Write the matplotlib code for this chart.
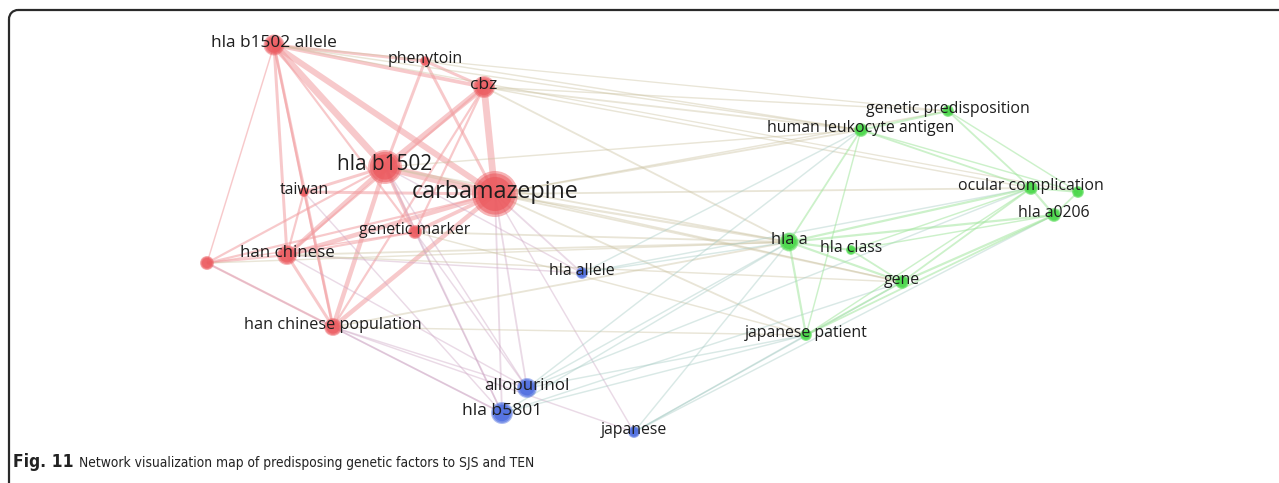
import numpy as np
import matplotlib
matplotlib.use("Agg")
import matplotlib.pyplot as plt
from matplotlib.collections import LineCollection
from matplotlib.patches import Arc
from matplotlib.colors import to_rgb

# keyword map: map coordinates (px), weight (occurrence size), cluster
labels = ["carbamazepine", "hla b1502", "hla b1502 allele", "cbz", "phenytoin",
          "taiwan", "genetic marker", "han chinese", "", "han chinese population",
          "hla allele", "allopurinol", "hla b5801", "japanese",
          "genetic predisposition", "human leukocyte antigen", "ocular complication", "",
          "hla a0206", "hla a", "hla class", "gene", "japanese patient"]
map_x = [495, 385, 274, 484, 425, 304, 415, 287, 207, 333,
         582, 527, 502, 634,
         948, 861, 1031, 1078, 1054, 789, 851, 902, 806]
map_y = [194, 167, 45, 87, 61, 192, 232, 255, 263, 327,
         273, 388, 413, 432,
         111, 130, 188, 192, 215, 242, 250, 282, 335]
weight = [23, 17, 10.5, 11, 5, 5, 7, 10, 7, 9,
          6, 10, 11, 6,
          6, 7, 7, 6, 7, 9.5, 5, 7, 6]
cluster = [0, 0, 0, 0, 0, 0, 0, 0, 0, 0,
           2, 2, 2, 2,
           1, 1, 1, 1, 1, 1, 1, 1, 1]

# links: (node a, node b, strength)
links = [
    (2, 1, 8), (2, 0, 7), (2, 3, 4), (2, 4, 3), (2, 7, 3), (2, 5, 2), (2, 9, 3),
    (2, 6, 2), (2, 8, 1), (1, 0, 9), (3, 0, 8), (3, 1, 7), (3, 4, 3), (4, 1, 3),
    (4, 0, 3), (1, 7, 5), (1, 9, 5), (1, 6, 4), (1, 5, 3), (1, 8, 2), (0, 7, 5),
    (0, 9, 5), (0, 6, 4), (0, 5, 3), (0, 8, 2), (7, 9, 3), (7, 8, 2), (7, 6, 2),
    (5, 7, 2), (5, 9, 2), (8, 9, 2), (3, 7, 2), (3, 9, 2), (3, 6, 2), (8, 6, 1),
    (0, 10, 1.5), (0, 11, 1.5), (0, 12, 1.5), (0, 13, 1), (1, 11, 1), (1, 12, 1.5),
    (6, 12, 1), (9, 12, 1.5), (9, 11, 1), (9, 13, 1), (7, 11, 1), (8, 12, 1),
    (5, 12, 1), (6, 11, 1), (1, 10, 1), (7, 10, 1),
    (0, 19, 2), (0, 15, 1.5), (0, 14, 1), (0, 16, 1.5), (0, 21, 1.5), (0, 22, 1.5),
    (3, 15, 1.5), (3, 14, 1), (3, 19, 1.5), (3, 16, 1), (2, 15, 1), (2, 17, 0.8),
    (1, 19, 1.5), (4, 15, 1), (6, 19, 1.5), (7, 19, 1.5), (9, 19, 1.5), (9, 22, 1),
    (1, 21, 1), (8, 19, 1), (7, 21, 1), (6, 22, 1), (2, 14, 0.8), (1, 15, 1),
    (10, 19, 1), (11, 19, 1), (11, 22, 1), (12, 22, 1), (13, 22, 1), (13, 19, 1),
    (10, 15, 1), (12, 21, 1), (13, 21, 1), (11, 16, 1), (12, 19, 1), (10, 16, 1),
    (13, 18, 1), (11, 15, 1),
    (19, 20, 2), (19, 21, 2), (19, 16, 2), (19, 18, 2), (19, 15, 1.5), (15, 14, 2),
    (15, 16, 1.5), (15, 17, 1), (14, 16, 1.5), (14, 17, 1), (16, 18, 2), (16, 17, 1.5),
    (18, 17, 1.5), (21, 18, 2), (21, 16, 1.5), (22, 21, 1.5), (22, 18, 1.5),
    (20, 21, 1.5), (22, 15, 1), (20, 18, 1), (19, 22, 2), (20, 16, 1), (22, 16, 1),
]

node_colors = ["#ec5a5f", "#46d846", "#4a6be0"]
link_colors = ["#f29ea1", "#a3e69f", "#aab0ea"]

fig = plt.figure(figsize=(12.79, 4.83), dpi=100)
ax = fig.add_axes([0, 0, 1, 1])
ax.set_xlim(0, 1279)
ax.set_ylim(483, 0)
ax.axis("off")

# links
segs, cols, lws = [], [], []
for a, b, s in links:
    segs.append([(map_x[a], map_y[a]), (map_x[b], map_y[b])])
    ca = np.array(to_rgb(link_colors[cluster[a]]))
    cb = np.array(to_rgb(link_colors[cluster[b]]))
    if cluster[a] == cluster[b]:
        c = ca
        alpha = 0.55
    else:
        c = (ca + cb) / 2
        alpha = 0.42
    cols.append((*c, alpha))
    lws.append(0.5 + 0.55 * s)
ax.add_collection(LineCollection(segs, colors=cols, linewidths=lws, zorder=1))

# nodes: soft rim, solid core
w = np.array(weight)
sizes = (2 * w * 0.72) ** 2
ncol = [node_colors[c] for c in cluster]
ax.scatter(map_x, map_y, s=sizes, c=ncol, alpha=0.45, linewidths=0, zorder=2)
ax.scatter(map_x, map_y, s=sizes * 0.8, c=ncol, alpha=0.55, linewidths=0, zorder=3)
ax.scatter(map_x, map_y, s=sizes * 0.55, c=ncol, alpha=0.7, linewidths=0, zorder=3)

# labels
for i, lab in enumerate(labels):
    if not lab:
        continue
    fs = max(11.4, 11.4 * (weight[i] / 8.5) ** 0.39)
    ax.text(map_x[i], map_y[i] - 2, lab, fontsize=fs, color="#1e1e1e",
            family=["Open Sans", "DejaVu Sans"], ha="center", va="center", zorder=4)

# panel border with rounded top-left corner
r = 9
ax.plot([9 + r, 1279], [10, 10], color="#2a2a2a", lw=1.6, solid_capstyle="butt")
ax.plot([9, 9], [10 + r, 483], color="#2a2a2a", lw=1.6, solid_capstyle="butt")
ax.add_patch(Arc((9 + r, 10 + r), 2 * r, 2 * r, theta1=180, theta2=270,
                 color="#2a2a2a", lw=1.6))

# caption
cap_font = ["Liberation Sans Narrow", "DejaVu Sans"]
t1 = ax.text(13, 462, "Fig. 11", fontsize=12.5, fontweight="bold", family=cap_font,
             fontstretch="condensed", va="center", ha="left", color="#222222")
fig.canvas.draw()
bb = t1.get_window_extent().transformed(ax.transData.inverted())
ax.text(bb.x1 + 5, 462.5, "Network visualization map of predisposing genetic factors to SJS and TEN",
        fontsize=9.9, family=cap_font, fontstretch="condensed",
        va="center", ha="left", color="#222222")

fig.savefig("out.png", dpi=100)
